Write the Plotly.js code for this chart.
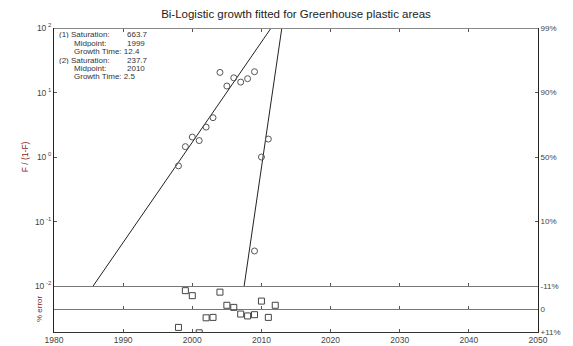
<!DOCTYPE html>
<html>
<head>
<meta charset="utf-8">
<script src="https://cdn.plot.ly/plotly-3.0.1.min.js"></script>
<style>html,body{margin:0;padding:0;background:#fff;}#chart{width:573px;height:346px;}</style>
</head>
<body>
<div id="chart"></div>
<script>
// ---- data ----
const years1 = [1998,1999,2000,2001,2002,2003,2004,2005,2006,2007,2008,2009];
const fpr1   = [0.73,1.45,2.04,1.80,2.91,4.07,20.5,12.6,16.9,14.5,16.4,21.0];
const years2 = [2009,2010,2011];
const fpr2   = [0.035,1.0,1.90];
const fit1Years = [1985.65,2011.4];
const fit1Vals  = [0.01,100];
const fit2Years = [2007.5,2012.95];
const fit2Vals  = [0.01,100];
const errYears = [1998,1999,2000,2001,2002,2003,2004,2005,2006,2007,2008,2009,2010,2011,2012];
const errVals  = [8.8,-8.8,-6.4,11.4,4.2,4.0,-8.1,-1.8,-0.8,2.4,3.3,2.7,-3.8,4.0,-1.8];
const xTicks = [1980,1990,2000,2010,2020,2030,2040,2050];
const leftTickVals = [0.01,0.1,1,10,100];
const leftTickText = ["10<sup> -2</sup>","10<sup> -1</sup>","10<sup> 0</sup>","10<sup> 1</sup>","10<sup> 2</sup>"];
const rightTickVals = [100,10,1,0.1];
const rightTickText = ["99%","90%","50%","10%"];
const errTickVals = [-11,0,11];
const errTickText = ["-11%","0","+11%"];
const fitLabels = ["(1) Saturation:","Midpoint:","Growth Time: 12.4","(2) Saturation:","Midpoint:","Growth Time: 2.5"];
const fitValues = ["663.7","1999","","237.7","2010",""];

// ---- geometry helpers (pixel -> paper) ----
const L = 54, R = 538, T = 27.5, B = 332;
const px = v => (v - L) / (R - L);
const py = v => (B - v) / (B - T);
const errTop = py(286), zeroPos = py(309);

const font = "Liberation Sans, Arial, sans-serif";
const txt = "#333";
const traces = [
  {x: fit1Years, y: fit1Vals, mode: "lines", line: {color: "#222", width: 1}, xaxis: "x", yaxis: "y"},
  {x: fit2Years, y: fit2Vals, mode: "lines", line: {color: "#222", width: 1}, xaxis: "x", yaxis: "y"},
  {x: years1, y: fpr1, mode: "markers", marker: {symbol: "circle-open", size: 6, color: "#555", line: {width: 1}}, xaxis: "x", yaxis: "y"},
  {x: years2, y: fpr2, mode: "markers", marker: {symbol: "circle-open", size: 6, color: "#555", line: {width: 1}}, xaxis: "x", yaxis: "y"},
  {x: errYears, y: errVals, mode: "markers", marker: {symbol: "square-open", size: 6, color: "#444", line: {width: 1}}, xaxis: "x", yaxis: "y2"},
  // empty carriers so the overlay axes get drawn
  {x: [], y: [], xaxis: "x2", yaxis: "y", mode: "markers"},
  {x: [], y: [], xaxis: "x3", yaxis: "y", mode: "markers"},
  {x: [], y: [], xaxis: "x4", yaxis: "y", mode: "markers"},
  {x: [], y: [], xaxis: "x", yaxis: "y3", mode: "markers"},
  {x: [], y: [], xaxis: "x", yaxis: "y4", mode: "markers"}
];

const xBase = {range: [1980, 2050], tickvals: xTicks, showgrid: false, zeroline: false, ticks: "inside", ticklen: 3, tickcolor: "#555", fixedrange: true};
const annotations = [];
const rowsY = [34, 42.3, 50.7, 59.3, 67.7, 76];
const rowsX = [58, 73, 73, 58, 73, 73];
const fitFont = {family: font, size: 8, color: txt};
fitLabels.forEach((t, i) => {
  annotations.push({text: t, xref: "paper", yref: "paper", x: px(rowsX[i]), y: py(rowsY[i]), xanchor: "left", yanchor: "middle", height: 8, borderpad: 0, showarrow: false, font: fitFont});
  if (fitValues[i]) annotations.push({text: fitValues[i], xref: "paper", yref: "paper", x: px(126), y: py(rowsY[i]), xanchor: "left", yanchor: "middle", height: 8, borderpad: 0, showarrow: false, font: fitFont});
});
annotations.push({text: "F / (1-F)", xref: "paper", yref: "paper", x: px(25), y: py(157), textangle: -90, showarrow: false, xanchor: "center", yanchor: "middle", font: {family: font, size: 8.5, color: "#8b2323"}});
annotations.push({text: "% error", xref: "paper", yref: "paper", x: px(39), y: py(309), textangle: -90, showarrow: false, xanchor: "center", yanchor: "middle", font: {family: font, size: 8, color: "#8b2323"}});

const layout = {
  width: 573, height: 346,
  margin: {l: L, r: 573 - R, t: T, b: 346 - B},
  paper_bgcolor: "#fff", plot_bgcolor: "#fff",
  showlegend: false,
  title: {text: "Bi-Logistic growth fitted for Greenhouse plastic areas", x: px(296), xref: "paper", xanchor: "center", y: 1 - 14/346, yref: "container", yanchor: "middle", font: {family: font, size: 11.5, color: "#222"}},
  xaxis: Object.assign({}, xBase, {anchor: "y2", showline: true, linecolor: "#333", linewidth: 1, tickfont: {family: font, size: 8.5, color: "#444"}}),
  xaxis2: Object.assign({}, xBase, {overlaying: "x", anchor: "free", position: errTop, showline: true, linecolor: "#777", showticklabels: false}),
  xaxis3: Object.assign({}, xBase, {overlaying: "x", anchor: "free", position: zeroPos, showline: true, linecolor: "#777", showticklabels: false}),
  xaxis4: Object.assign({}, xBase, {overlaying: "x", anchor: "free", position: 1, side: "top", showline: true, linecolor: "#888", showticklabels: false}),
  yaxis: {domain: [errTop, 1], type: "log", range: [-2, 2], tickvals: leftTickVals, ticktext: leftTickText, ticks: "inside", ticklen: 3, tickcolor: "#555", showline: true, linecolor: "#222", showgrid: false, zeroline: false, anchor: "x", tickfont: {family: font, size: 8.5, color: "#444"}, fixedrange: true},
  yaxis2: {domain: [0, errTop], range: [11, -11], showticklabels: false, ticks: "", showline: true, linecolor: "#222", showgrid: false, zeroline: false, anchor: "x", fixedrange: true},
  yaxis3: {overlaying: "y", side: "right", anchor: "x", type: "log", range: [-2, 2], tickvals: rightTickVals, ticktext: rightTickText, ticks: "inside", ticklen: 3, tickcolor: "#555", showline: true, linecolor: "#222", showgrid: false, zeroline: false, tickfont: {family: font, size: 8, color: "#444"}, fixedrange: true},
  yaxis4: {overlaying: "y2", side: "right", anchor: "x", range: [11, -11], tickvals: errTickVals, ticktext: errTickText, ticks: "", showline: true, linecolor: "#222", showgrid: false, zeroline: false, tickfont: {family: font, size: 8, color: "#444"}, fixedrange: true},
  annotations: annotations
};

Plotly.newPlot("chart", traces, layout, {displayModeBar: false, staticPlot: true});
</script>
</body>
</html>
